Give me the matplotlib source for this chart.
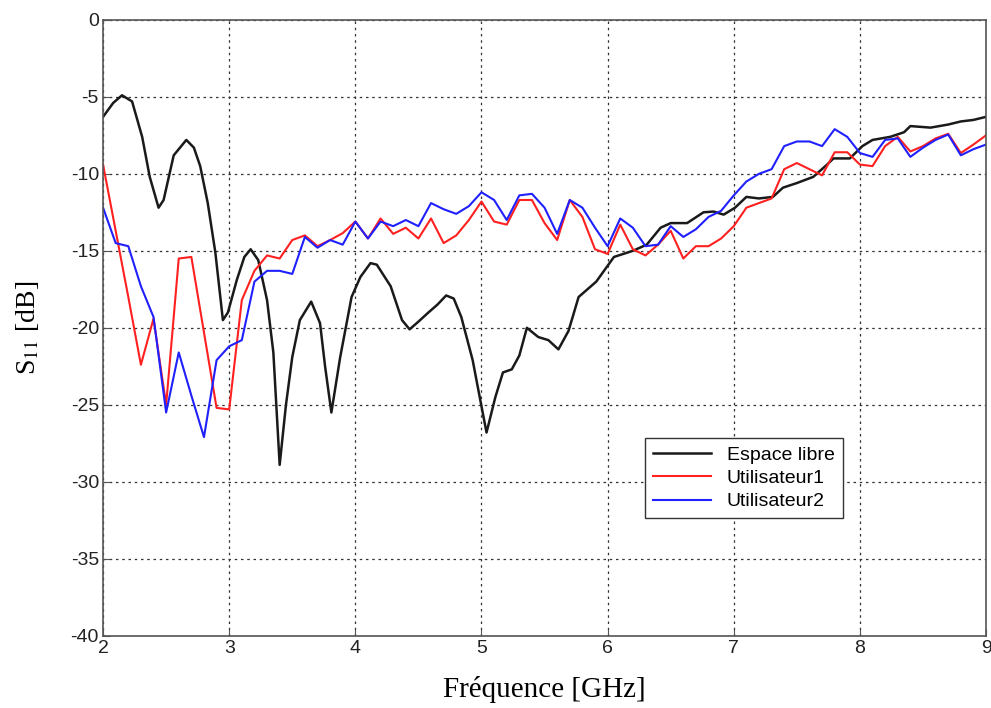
import numpy as np
import matplotlib.pyplot as plt

# Espace libre (free space)
f_libre = [2.0, 2.08, 2.15, 2.23, 2.31, 2.37, 2.44, 2.48, 2.56, 2.66, 2.72, 2.77, 2.83, 2.89, 2.95,
           2.99, 3.06, 3.12, 3.17, 3.23, 3.3, 3.35, 3.4, 3.45, 3.5, 3.56, 3.65, 3.72, 3.76, 3.81,
           3.88, 3.97, 4.04, 4.12, 4.17, 4.28, 4.37, 4.43, 4.5, 4.58, 4.65, 4.72, 4.78, 4.84, 4.93,
           5.0, 5.04, 5.11, 5.17, 5.24, 5.3, 5.36, 5.45, 5.53, 5.61, 5.69, 5.77, 5.84, 5.91, 6.05,
           6.2, 6.31, 6.42, 6.5, 6.63, 6.76, 6.84, 6.92, 7.01, 7.1, 7.2, 7.31, 7.39, 7.5, 7.63,
           7.74, 7.79, 7.92, 8.02, 8.1, 8.24, 8.35, 8.4, 8.56, 8.7, 8.8, 8.9, 9.0]
s_libre = [-6.3, -5.4, -4.9, -5.3, -7.6, -10.2, -12.2, -11.7, -8.8, -7.8, -8.3, -9.5, -11.9, -15.1, -19.5,
           -19.0, -16.9, -15.4, -14.9, -15.6, -18.2, -21.6, -28.9, -25.0, -21.9, -19.5, -18.3, -19.7, -22.5, -25.5,
           -21.9, -18.0, -16.7, -15.8, -15.9, -17.3, -19.5, -20.1, -19.6, -19.0, -18.5, -17.9, -18.1, -19.3, -22.1,
           -25.1, -26.8, -24.5, -22.9, -22.7, -21.8, -20.0, -20.6, -20.8, -21.4, -20.2, -18.0, -17.5, -17.0, -15.4,
           -15.0, -14.6, -13.5, -13.2, -13.2, -12.5, -12.45, -12.65, -12.2, -11.5, -11.6, -11.5, -10.9, -10.6, -10.2,
           -9.4, -9.0, -9.0, -8.2, -7.8, -7.6, -7.3, -6.9, -7.0, -6.8, -6.6, -6.5, -6.3]

# Utilisateur1 / Utilisateur2 - sampled every 0.1 GHz
f_user = np.round(np.arange(2.0, 9.01, 0.1), 2)
s_user1 = [-9.4, -13.7, -18.0, -22.4, -19.4, -25.0, -15.5, -15.4, -20.3, -25.2,
           -25.3, -18.2, -16.3, -15.3, -15.5, -14.3, -14.0, -14.7, -14.3, -13.85,
           -13.1, -14.2, -12.9, -13.9, -13.5, -14.2, -12.9, -14.5, -14.0, -13.0,
           -11.8, -13.1, -13.3, -11.7, -11.7, -13.2, -14.3, -11.7, -12.8, -14.9,
           -15.2, -13.3, -14.9, -15.3, -14.6, -13.7, -15.5, -14.7, -14.7, -14.2,
           -13.4, -12.2, -11.9, -11.6, -9.7, -9.3, -9.7, -10.1, -8.6, -8.6,
           -9.4, -9.5, -8.2, -7.6, -8.55, -8.2, -7.7, -7.4, -8.65, -8.1,
           -7.5]
s_user2 = [-12.2, -14.5, -14.7, -17.3, -19.3, -25.5, -21.6, -24.4, -27.1, -22.1,
           -21.2, -20.8, -17.0, -16.3, -16.3, -16.5, -14.1, -14.8, -14.3, -14.6,
           -13.1, -14.2, -13.1, -13.4, -13.0, -13.4, -11.9, -12.3, -12.6, -12.1,
           -11.2, -11.7, -13.0, -11.4, -11.3, -12.2, -13.9, -11.7, -12.2, -13.5,
           -14.7, -12.9, -13.5, -14.7, -14.6, -13.4, -14.1, -13.6, -12.8, -12.4,
           -11.4, -10.5, -10.0, -9.7, -8.2, -7.9, -7.9, -8.2, -7.1, -7.6,
           -8.65, -8.9, -7.8, -7.7, -8.9, -8.3, -7.8, -7.45, -8.8, -8.4,
           -8.1]

xticks = [2, 3, 4, 5, 6, 7, 8, 9]
yticks = [-40, -35, -30, -25, -20, -15, -10, -5, 0]

plt.rcParams['mathtext.fontset'] = 'stix'
plt.rcParams['axes.unicode_minus'] = False

fig = plt.figure(figsize=(9.91, 7.08), dpi=100)
ax = fig.add_axes([0.104, 0.102, 0.891, 0.870])

ax.plot(f_libre, s_libre, color='#1a1a1a', lw=1.8, label='Espace libre')
ax.plot(f_user, s_user1, color='#ff2020', lw=1.5, label='Utilisateur1')
ax.plot(f_user, s_user2, color='#2020ff', lw=1.5, label='Utilisateur2')

ax.set_xlim(2, 9)
ax.set_ylim(-40, 0)
ax.set_xticks(xticks)
ax.set_yticks(yticks)
ax.tick_params(direction='in', labelsize=14, length=5, pad=3, color='#555555')
for lab in ax.get_xticklabels() + ax.get_yticklabels():
    lab.set_family('Liberation Sans')
    lab.set_color('#222222')
ax.grid(True, color='#333333', linestyle=(0, (2, 3)), linewidth=0.9)
for sp in ax.spines.values():
    sp.set_color('#555555')
    sp.set_linewidth(1.2)

ax.set_xlabel('Fréquence [GHz]', family='Liberation Serif', fontsize=21, labelpad=14)
ax.set_ylabel(r'S$_{11}$ [dB]', family='Liberation Serif', fontsize=20)
ax.yaxis.set_label_coords(-0.07, 0.5)

leg = ax.legend(loc='lower left', bbox_to_anchor=(0.603, 0.175),
                prop={'family': 'Liberation Sans', 'size': 14}, fancybox=False,
                edgecolor='#333333', framealpha=1, handlelength=3.0, borderpad=0.4,
                labelspacing=0.3)
leg.get_frame().set_linewidth(1.0)

fig.savefig('out.png', dpi=100)
